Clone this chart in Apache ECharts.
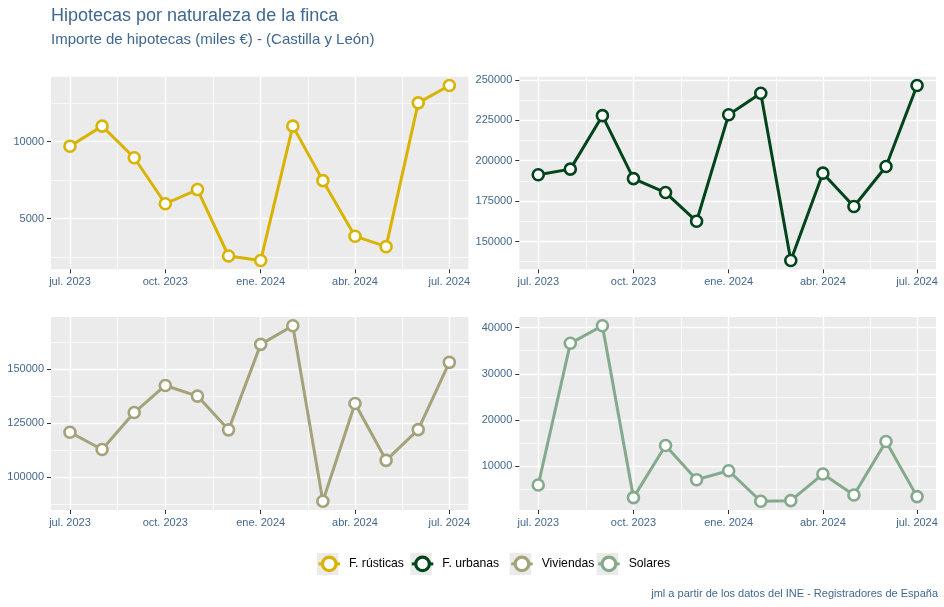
<!DOCTYPE html>
<html>
<head>
<meta charset="utf-8">
<script src="https://cdn.jsdelivr.net/npm/echarts@6/dist/echarts.min.js"></script>
<style>
html,body{margin:0;padding:0;background:#fff;}
#chart{width:944px;height:607px;}
</style>
</head>
<body>
<div id="chart"></div>
<script>
// ---- data ----
const months = ['2023-07-01','2023-08-01','2023-09-01','2023-10-01','2023-11-01','2023-12-01','2024-01-01','2024-02-01','2024-03-01','2024-04-01','2024-05-01','2024-06-01','2024-07-01'];
const seriesNames = ['F. rústicas','F. urbanas','Viviendas','Solares'];
const rusticas  = [9700, 11000, 8950, 5965, 6885, 2575, 2280, 11000, 7465, 3860, 3180, 12510, 13640];
const urbanas   = [191350, 194800, 227900, 188900, 180300, 162500, 228500, 241800, 138200, 192300, 171700, 196400, 246600];
const viviendas = [120700, 112700, 129800, 142300, 137400, 121800, 161300, 169900, 88800, 134000, 107700, 121900, 153000];
const solares   = [5900, 36600, 40400, 3160, 14470, 7050, 8990, 2380, 2510, 8270, 3740, 15330, 3380];
const xTickDates = ['2023-07-01','2023-10-01','2024-01-01','2024-04-01','2024-07-01'];
const monthAbbr = ['ene.','feb.','mar.','abr.','may.','jun.','jul.','ago.','sept.','oct.','nov.','dic.'];
const yTicks = [[5000,10000],[150000,175000,200000,225000,250000],[100000,125000,150000],[10000,20000,30000,40000]];
const yMinor = [[2500,7500,12500],[137500,162500,187500,212500,237500],[87500,112500,137500,162500],[5000,15000,25000,35000]];
const colors = ['#D8B300','#00441B','#A3A27A','#84A98C'];
const titleText = 'Hipotecas por naturaleza de la finca';
const subtitleText = 'Importe de hipotecas (miles €) - (Castilla y León)';
const captionText = 'jml a partir de los datos del INE - Registradores de España';

// ---- build ----
const values = [rusticas, urbanas, viviendas, solares];
function ts(s){ const p = s.split('-').map(Number); return Date.UTC(p[0], p[1]-1, p[2]); }
const xs = months.map(ts);
const xMaj = xTickDates.map(ts);
const xMin = [];
for (let i = 0; i < xMaj.length - 1; i++) xMin.push((xMaj[i] + xMaj[i+1]) / 2);
const xSpan = xs[xs.length-1] - xs[0];
const xLo = xs[0] - 0.05 * xSpan, xHi = xs[xs.length-1] + 0.05 * xSpan;

const FONT = "'Liberation Sans', Arial, sans-serif";
const TXT = '#43688F';
const grids = [
  {left: 51, top: 76.7, width: 417.3, height: 192.6},
  {left: 519.3, top: 76.7, width: 416.7, height: 192.6},
  {left: 51, top: 317, width: 417.3, height: 193},
  {left: 519.3, top: 317, width: 416.7, height: 193}
];
const xAxis = [], yAxis = [], series = [];
grids.forEach((g, i) => {
  g.show = true; g.backgroundColor = '#EBEBEB'; g.borderWidth = 0; g.containLabel = false;
  const v = values[i];
  const mn = Math.min(...v), mx = Math.max(...v), r = mx - mn;
  const yLo = mn - 0.05 * r, yHi = mx + 0.05 * r;
  xAxis.push({
    gridIndex: i, type: 'value', min: xLo, max: xHi,
    axisLine: {show: false},
    axisTick: {show: true, length: 4, customValues: xMaj, lineStyle: {color: '#333', width: 1}},
    axisLabel: {customValues: xMaj, margin: 7, color: TXT, fontFamily: FONT, fontSize: 11,
      formatter: function(val){ const d = new Date(val); return monthAbbr[d.getUTCMonth()] + ' ' + d.getUTCFullYear(); }},
    splitLine: {show: true, lineStyle: {color: '#FFFFFF', width: 1.4}}
  });
  xAxis.push({
    gridIndex: i, type: 'value', min: xLo, max: xHi,
    axisLine: {show: false},
    axisTick: {show: false, customValues: xMin},
    axisLabel: {show: false, customValues: xMin},
    splitLine: {show: true, lineStyle: {color: '#FFFFFF', width: 0.7}}
  });
  yAxis.push({
    gridIndex: i, type: 'value', min: yLo, max: yHi,
    axisLine: {show: false},
    axisTick: {show: true, length: 4, customValues: yTicks[i], lineStyle: {color: '#333', width: 1}},
    axisLabel: {customValues: yTicks[i], margin: 7, color: TXT, fontFamily: FONT, fontSize: 11,
      formatter: function(val){ return String(Math.round(val)); }},
    splitLine: {show: true, lineStyle: {color: '#FFFFFF', width: 1.4}}
  });
  yAxis.push({
    gridIndex: i, type: 'value', min: yLo, max: yHi,
    axisLine: {show: false},
    axisTick: {show: false, customValues: yMinor[i]},
    axisLabel: {show: false, customValues: yMinor[i]},
    splitLine: {show: true, lineStyle: {color: '#FFFFFF', width: 0.7}}
  });
  series.push({
    name: seriesNames[i], type: 'line', xAxisIndex: i*2, yAxisIndex: i*2,
    data: xs.map((x, k) => [x, v[k]]),
    symbol: 'circle', symbolSize: 11,
    lineStyle: {color: colors[i], width: 3},
    itemStyle: {color: '#FFFFFF', borderColor: colors[i], borderWidth: 2.6},
    emphasis: {disabled: true},
    animation: false, z: 3
  });
});

const legendLefts = [317, 410.3, 509.7, 596.7];
const legends = seriesNames.map((n, i) => ({
  data: [n], left: legendLefts[i], top: 555.5, padding: 0,
  itemWidth: 21.5, itemHeight: 17,
  itemStyle: {borderWidth: 3.2},
  lineStyle: {width: 3},
  textStyle: {fontFamily: FONT, fontSize: 12.2, color: '#000', padding: [0,0,0,4]},
  selectedMode: false
}));
const graphic = legendLefts.map(l => ({
  type: 'rect', left: l, top: 553, shape: {width: 21.5, height: 22}, style: {fill: '#EBEBEB'}, z: -1, silent: true
}));

const chart = echarts.init(document.getElementById('chart'), null, {renderer: 'canvas'});
chart.setOption({
  animation: false,
  backgroundColor: '#FFFFFF',
  title: [
    {text: titleText, left: 51, top: 7, padding: 0, textStyle: {fontFamily: FONT, fontSize: 18, fontWeight: 'normal', color: '#3F6790'}},
    {text: subtitleText, left: 51, top: 32, padding: 0, textStyle: {fontFamily: FONT, fontSize: 15, fontWeight: 'normal', color: '#3F6790'}},
    {text: captionText, right: 6, top: 588, padding: 0, textStyle: {fontFamily: FONT, fontSize: 11, fontWeight: 'normal', color: '#43688F'}}
  ],
  grid: grids,
  xAxis: xAxis,
  yAxis: yAxis,
  legend: legends,
  graphic: graphic,
  series: series
});
</script>
</body>
</html>
